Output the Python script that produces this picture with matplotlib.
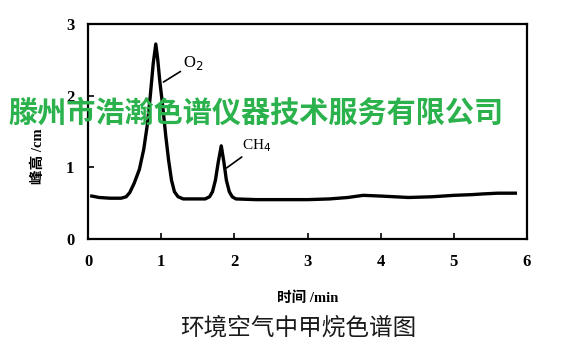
import matplotlib
matplotlib.use("Agg")
import matplotlib.pyplot as plt

# chromatogram trace (time in min, peak height in cm)
t = [0.05, 0.15, 0.30, 0.45, 0.52, 0.57, 0.63, 0.70, 0.76, 0.81, 0.85, 0.89,
     0.925, 0.95, 0.98, 1.02, 1.06, 1.10, 1.14, 1.18, 1.23, 1.30, 1.45, 1.60,
     1.66, 1.70, 1.74, 1.78, 1.82, 1.855, 1.89, 1.93, 1.97, 2.02, 2.30, 2.60,
     3.00, 3.30, 3.55, 3.76, 4.00, 4.38, 4.70, 5.00, 5.25, 5.40, 5.60, 5.84]
h = [0.60, 0.58, 0.57, 0.57, 0.59, 0.65, 0.78, 0.97, 1.25, 1.60, 2.00, 2.45,
     2.72, 2.52, 2.20, 1.85, 1.45, 1.10, 0.82, 0.66, 0.59, 0.56, 0.56, 0.56,
     0.59, 0.66, 0.82, 1.08, 1.30, 1.08, 0.82, 0.66, 0.59, 0.56, 0.55, 0.55,
     0.55, 0.56, 0.58, 0.61, 0.60, 0.58, 0.59, 0.61, 0.62, 0.63, 0.64, 0.64]

xticks = [0, 1, 2, 3, 4, 5, 6]
yticks = [0, 1, 2, 3]

serif_cjk = ['Liberation Serif', 'Noto Sans CJK SC']

fig = plt.figure(figsize=(5.76, 3.47), dpi=100)
ax = fig.add_axes([0.153, 0.311, 0.762, 0.62])

ax.plot(t, h, color='black', lw=2.4, solid_joinstyle='round')

ax.set_xlim(0, 6)
ax.set_ylim(0, 3)
ax.set_xticks(xticks)
ax.set_yticks(yticks)
ax.tick_params(direction='in', length=4, width=1.2)
ax.tick_params(axis='x', pad=11)
ax.tick_params(axis='y', pad=10)
for lab in ax.get_xticklabels() + ax.get_yticklabels():
    lab.set_fontfamily('Liberation Serif')
    lab.set_fontweight('bold')
    lab.set_fontsize(12)
for s in ax.spines.values():
    s.set_linewidth(1.6)

# peak labels
ax.annotate('O$_2$', xy=(1.03, 2.19), xytext=(1.30, 2.45),
            fontsize=12, family='Liberation Serif', va='center',
            arrowprops=dict(arrowstyle='-', color='black', lw=1.2,
                            shrinkA=0, shrinkB=0))
ax.annotate('CH$_4$', xy=(1.89, 0.99), xytext=(2.11, 1.30),
            fontsize=11, family='Liberation Serif', va='center',
            arrowprops=dict(arrowstyle='-', color='black', lw=1.2,
                            shrinkA=0, shrinkB=0))

ax.set_xlabel('时间 /min', family=serif_cjk, fontweight='bold',
              fontsize=10.5, labelpad=15)
fig.text(0.066, 0.55, '峰高 /cm', rotation=90, family=serif_cjk,
         fontweight='bold', fontsize=10.5, ha='center', va='center')

fig.text(0.517, 0.055, '环境空气中甲烷色谱图', family='Noto Sans CJK SC',
         fontsize=17, color='#1a1a1a', ha='center', va='center')

# watermark
fig.text(0.445, 0.674, '滕州市浩瀚色谱仪器技术服务有限公司',
         family='Noto Sans CJK SC', fontweight='bold', fontsize=21,
         color='#2bb24c', ha='center', va='center')

fig.savefig('out.png', dpi=100)
